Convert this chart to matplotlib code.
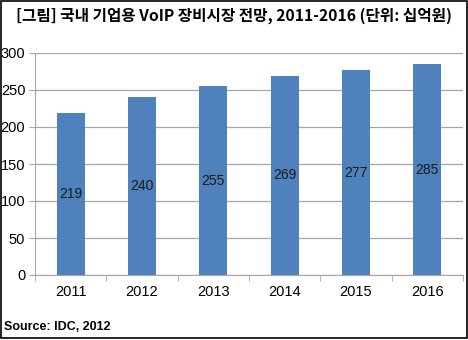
import matplotlib
matplotlib.use('Agg')
import matplotlib.pyplot as plt
from matplotlib.patches import Rectangle
import numpy as np

years = ['2011', '2012', '2013', '2014', '2015', '2016']
values = [219, 240, 255, 269, 277, 285]

plt.rcParams['font.family'] = ['Noto Sans CJK KR', 'DejaVu Sans']

fig = plt.figure(figsize=(4.68, 3.4), dpi=100)
ax = fig.add_axes([35/468, 1 - 275/340, 428/468, 222/340])

x = np.arange(len(years))
bars = ax.bar(x, values, width=0.39, color='#4F81BD', zorder=3)
for xi, v in zip(x, values):
    ax.text(xi, v / 2, str(v), ha='center', va='center', fontsize=10,
            family='Liberation Sans', color='#1a1a1a', zorder=4)

ax.set_xlim(-0.5, len(years) - 0.5)
ax.set_ylim(0, 300)
ax.set_yticks(range(0, 301, 50))
ax.yaxis.grid(True, color='#a6a6a6', linewidth=0.9, zorder=0)
ax.set_xticks(x)
ax.set_xticklabels(years)
ax.set_xticks(np.arange(-0.5, len(years)), minor=True)
ax.tick_params(axis='x', which='major', length=0, pad=7)
ax.tick_params(axis='x', which='minor', length=4, color='#a6a6a6')
ax.tick_params(axis='y', length=4, color='#a6a6a6', pad=3)
for lbl in ax.get_xticklabels() + ax.get_yticklabels():
    lbl.set_family('Liberation Sans')
    lbl.set_fontsize(10.5)
for s in ['top', 'right']:
    ax.spines[s].set_visible(False)
for s in ['left', 'bottom']:
    ax.spines[s].set_color('#a6a6a6')

fig.text(0.5, 1 - 16/340, '[그림] 국내 기업용 VoIP 장비시장 전망, 2011-2016 (단위: 십억원)',
         ha='center', va='center', fontsize=11.3, fontweight='bold')
fig.text(4/468, 1 - 327/340, 'Source: IDC, 2012', ha='left', va='center',
         fontsize=9, fontweight='bold', family='Liberation Sans')

fig.patches.append(Rectangle((0.5/468, 2/340), 466/468, 337.5/340, transform=fig.transFigure,
                             fill=False, edgecolor='black', linewidth=1.2))

fig.savefig('out.png', dpi=100)
